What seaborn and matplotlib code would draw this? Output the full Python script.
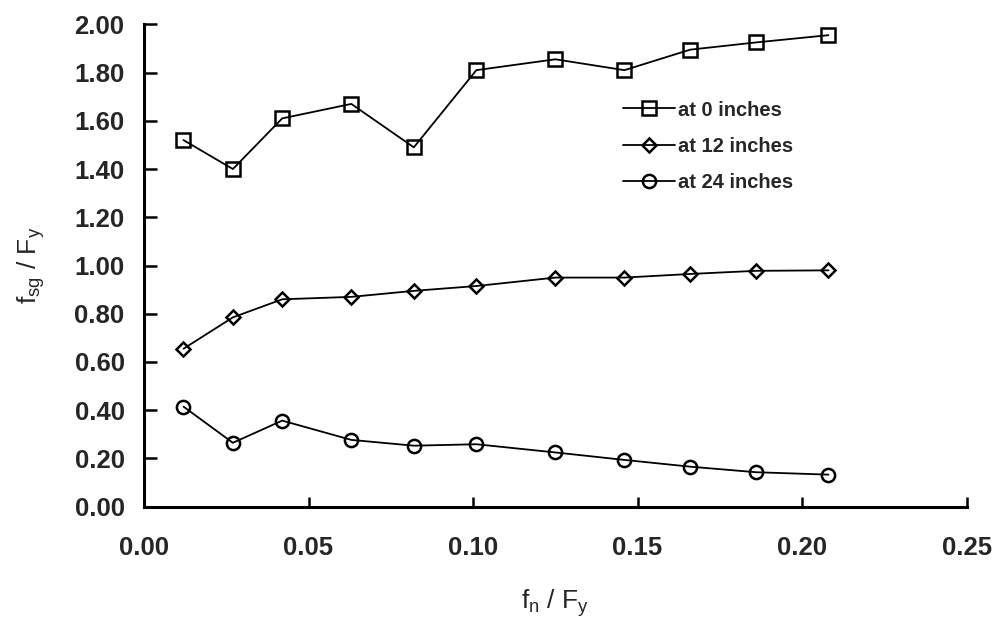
import numpy as np
import pandas as pd
import matplotlib
matplotlib.use('Agg')
import matplotlib.pyplot as plt
import seaborn as sns

# data
fn_fy = [0.012, 0.027, 0.042, 0.063, 0.082, 0.101, 0.125, 0.146, 0.166, 0.186, 0.208]
at_0 = [1.52, 1.40, 1.61, 1.67, 1.49, 1.81, 1.855, 1.81, 1.895, 1.925, 1.955]
at_12 = [0.655, 0.785, 0.86, 0.87, 0.895, 0.915, 0.95, 0.95, 0.965, 0.978, 0.98]
at_24 = [0.415, 0.265, 0.357, 0.277, 0.253, 0.259, 0.225, 0.194, 0.166, 0.143, 0.133]
series_labels = ['at 0 inches', 'at 12 inches', 'at 24 inches']
series_markers = ['s', 'D', 'o']
x_ticks = [0.00, 0.05, 0.10, 0.15, 0.20, 0.25]
y_ticks = [0.00, 0.20, 0.40, 0.60, 0.80, 1.00, 1.20, 1.40, 1.60, 1.80, 2.00]


def make_plot():
    sns.set_style('ticks')
    plt.rcParams['font.family'] = ['Liberation Sans', 'DejaVu Sans']
    plt.rcParams['font.weight'] = 'bold'
    plt.rcParams['mathtext.fontset'] = 'custom'
    plt.rcParams['mathtext.rm'] = 'Liberation Sans:bold'
    plt.rcParams['mathtext.it'] = 'Liberation Sans:bold'
    plt.rcParams['mathtext.bf'] = 'Liberation Sans:bold'

    fig = plt.figure(figsize=(9.98, 6.19), dpi=100, facecolor='white')
    ax = fig.add_axes([0.1443, 0.1814, 0.8243, 0.7793])

    sizes = {'s': 10, 'D': 7.5, 'o': 9.5}
    for vals, lab, mk in zip([at_0, at_12, at_24], series_labels, series_markers):
        sns.lineplot(x=fn_fy, y=vals, ax=ax, color='black', linewidth=1.3,
                     marker=mk, markersize=sizes[mk], markerfacecolor='none',
                     markeredgecolor='black', markeredgewidth=1.8, label=lab)

    ax.set_xlim(0, 0.25)
    ax.set_ylim(0, 2.0)
    ax.set_xticks(x_ticks)
    ax.set_yticks(y_ticks)
    ax.set_xticklabels([f'{v:.2f}' for v in x_ticks])
    ax.set_yticklabels([f'{v:.2f}' for v in y_ticks])
    ax.tick_params(axis='both', direction='in', labelsize=18.5, width=1.8, color='black')
    ax.tick_params(axis='y', length=9, pad=14)
    ax.tick_params(axis='x', length=7, pad=21)
    for s in ['top', 'right']:
        ax.spines[s].set_visible(False)
    for s in ['left', 'bottom']:
        ax.spines[s].set_linewidth(2.2)
        ax.spines[s].set_color('black')

    ax.set_xlabel(r'$\mathregular{f_n}$ / $\mathregular{F_y}$', fontsize=19, labelpad=20)
    ax.set_ylabel(r'$\mathregular{f_{sg}}$ / $\mathregular{F_y}$', fontsize=19, labelpad=20)

    ax.legend(loc='upper left', bbox_to_anchor=(0.582, 0.842), frameon=False,
              fontsize=14.5, handlelength=2.6, handletextpad=0.15,
              labelspacing=0.85, borderpad=0, borderaxespad=0)

    plt.savefig('out.png', dpi=100, facecolor='white')


if __name__ == '__main__':
    make_plot()
